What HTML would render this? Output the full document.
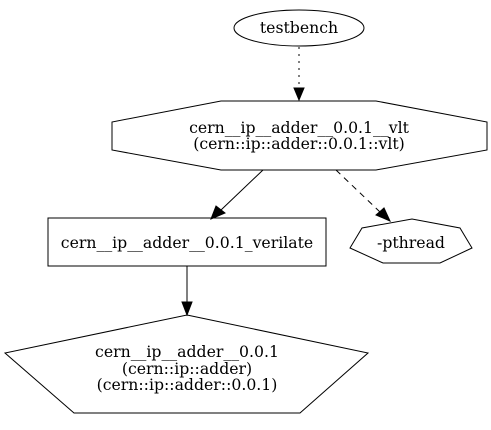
<!DOCTYPE html>
<html><head><style>html,body{margin:0;padding:0;background:#fff;}svg{display:block}</style></head>
<body>
<svg width="491" height="430" viewBox="0 0 491 430" xmlns="http://www.w3.org/2000/svg" font-family="'DejaVu Serif', serif" font-size="15.7" text-anchor="middle">
<rect width="491" height="430" fill="#fff"/>
<g fill="none" stroke="#000" stroke-width="1">
<ellipse cx="299" cy="28" rx="65" ry="18"/>
<polygon points="221,101 376,101 487,122 487,150 376,170 221,170 112,150 112,122"/>
<rect x="48" y="218" width="278" height="48"/>
<polygon points="350,248 362,228 412,219 460,228 472,248 440,263 383,263"/>
<polygon points="187,315 368,353 300,413 74,413 5,353"/>
<line x1="299" y1="47" x2="299" y2="88" stroke-dasharray="2,5"/>
<line x1="263" y1="170" x2="221" y2="210"/>
<line x1="336" y1="170" x2="380" y2="212" stroke-dasharray="6,5"/>
<line x1="187" y1="266" x2="187" y2="303"/>
</g>
<g fill="#000" stroke="#000">
<polygon points="294,88 304,88 299,100"/>
<polygon points="216,206 225,213 211,219"/>
<polygon points="376,215 384,208 390,221"/>
<polygon points="182,302 192,302 187,315"/>
</g>
<g fill="#000">
<text x="299" y="33">testbench</text>
<text x="299" y="133">cern__ip__adder__0.0.1__vlt</text>
<text x="299" y="149">(cern::ip::adder::0.0.1::vlt)</text>
<text x="187" y="248">cern__ip__adder__0.0.1_verilate</text>
<text x="411" y="248">-pthread</text>
<text x="187" y="357">cern__ip__adder__0.0.1</text>
<text x="187" y="374">(cern::ip::adder)</text>
<text x="187" y="390">(cern::ip::adder::0.0.1)</text>
</g>
</svg>
</body></html>
